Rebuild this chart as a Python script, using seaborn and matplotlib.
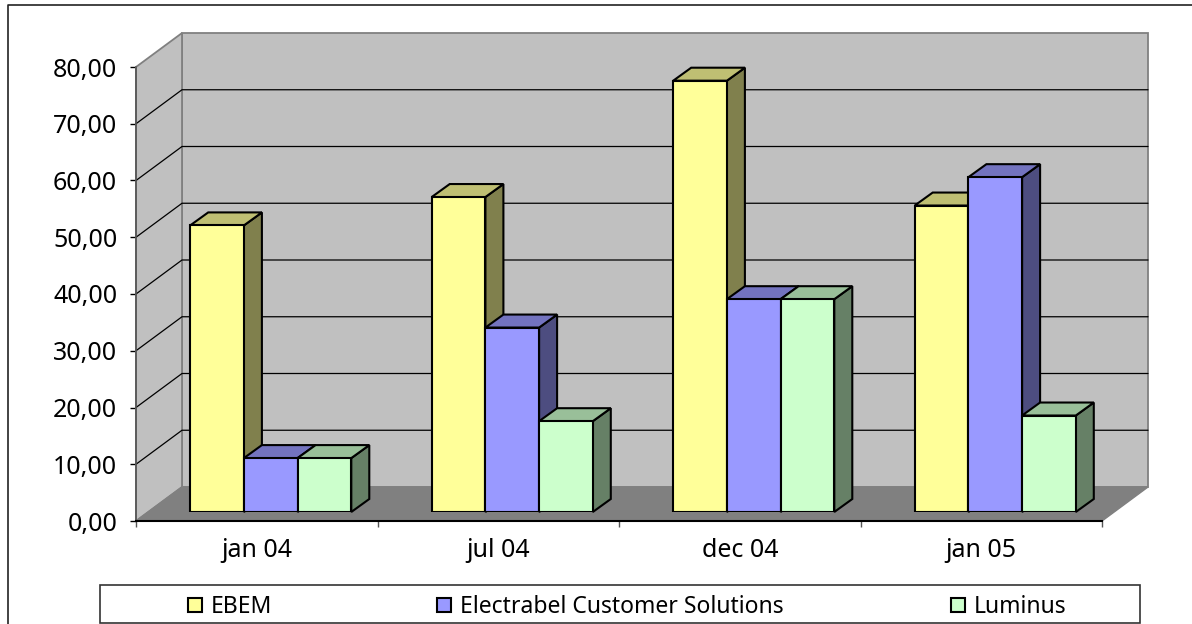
import pandas as pd
import matplotlib.pyplot as plt
import seaborn as sns
from matplotlib.patches import Patch, Polygon, Rectangle
from matplotlib.lines import Line2D
from matplotlib.transforms import IdentityTransform

# valeurs
dates = ["jan 04", "jul 04", "dec 04", "jan 05"]
ebem = [50.5, 55.5, 76.0, 54.0]
electrabel = [9.5, 32.5, 37.5, 59.0]
luminus = [9.5, 16.0, 37.5, 17.0]
y_ticks = [0, 10, 20, 30, 40, 50, 60, 70, 80]
series_names = ["EBEM", "Electrabel Customer Solutions", "Luminus"]
series_colors = ["#FFFF99", "#9999FF", "#CCFFCC"]
top_colors = ["#BFBF73", "#7373BF", "#99BF99"]
side_colors = ["#80804D", "#4D4D80", "#668066"]

W, H = 1192, 624
DEPTH_WALL = (46, 34)
DEPTH_BAR = (18, 13)
FONT = 18


def ax_rect(left, right, top, bottom):
    return [left / W, (H - bottom) / H, (right - left) / W, (bottom - top) / H]


def to_px(ax, x, y):
    return tuple(ax.transData.transform((x, y)))


def add_poly(ax, points, color, zorder, edge="black", lw=1.5):
    poly = Polygon(points, closed=True, facecolor=color, edgecolor=edge, linewidth=lw,
                   transform=IdentityTransform(), clip_on=False, zorder=zorder)
    ax.add_patch(poly)


def draw_walls(ax):
    dx, dy = DEPTH_WALL
    x0, x1 = ax.get_xlim()
    x_a, y_a = to_px(ax, x0, 0)
    x_b, y_b = to_px(ax, x1, 0)
    _, y_top = to_px(ax, x0, y_ticks[-1])

    # fond, mur de gauche, sol
    add_poly(ax, [(x_a + dx, y_a + dy), (x_b + dx, y_b + dy), (x_b + dx, y_top + dy), (x_a + dx, y_top + dy)],
             "#C0C0C0", 1, edge="#808080", lw=1.3)
    add_poly(ax, [(x_a, y_a), (x_a + dx, y_a + dy), (x_a + dx, y_top + dy), (x_a, y_top)],
             "#C0C0C0", 1, edge="#808080", lw=1.3)
    add_poly(ax, [(x_a, y_a), (x_b, y_b), (x_b + dx, y_b + dy), (x_a + dx, y_a + dy)],
             "#808080", 1, edge="#808080", lw=1)

    for tick in y_ticks[1:-1]:
        _, y = to_px(ax, x0, tick)
        ax.add_line(Line2D([x_a, x_a + dx, x_b + dx], [y, y + dy, y + dy], color="black", linewidth=0.9,
                           transform=IdentityTransform(), clip_on=False, zorder=2))


def matplotlib_hex(color):
    return "#%02X%02X%02X" % tuple(int(round(c * 255)) for c in color[:3])


def draw_bars_3d(ax):
    dx, dy = DEPTH_BAR
    bars = [p for p in ax.patches if p.get_height() > 0]
    bars = sorted(bars, key=lambda p: p.get_x())
    for i, bar in enumerate(bars):
        z = 3 + i * 0.1
        color_idx = series_colors.index(matplotlib_hex(bar.get_facecolor()))
        x_l, y_b = to_px(ax, bar.get_x(), 0)
        x_r, y_t = to_px(ax, bar.get_x() + bar.get_width(), bar.get_height())
        add_poly(ax, [(x_r, y_b), (x_r + dx, y_b + dy), (x_r + dx, y_t + dy), (x_r, y_t)], side_colors[color_idx], z)
        add_poly(ax, [(x_l, y_t), (x_r, y_t), (x_r + dx, y_t + dy), (x_l + dx, y_t + dy)], top_colors[color_idx], z)
        bar.set_zorder(z + 0.01)


def main():
    sns.set_theme(style="white")
    plt.rcParams["font.family"] = ["Noto Sans", "DejaVu Sans"]

    df = pd.DataFrame({
        "date": dates * 3,
        "fournisseur": [series_names[0]] * 4 + [series_names[1]] * 4 + [series_names[2]] * 4,
        "valeur": ebem + electrabel + luminus,
    })

    fig = plt.figure(figsize=(W / 100, H / 100), dpi=100, facecolor="white")

    # axes avant : graduations et parois
    ax = fig.add_axes(ax_rect(136, 1102, 67, 521))
    ax.patch.set_visible(False)
    ax.set_xlim(-0.5, 3.5)
    ax.set_ylim(0, 80)
    ax.set_yticks(y_ticks)
    ax.set_yticklabels([f"{t:.2f}".replace(".", ",") for t in y_ticks], fontsize=FONT, color="black")
    ax.tick_params(axis="y", left=True, length=4.5, width=1, color="black", pad=9)
    ax.set_xticks(range(len(dates)))
    ax.set_xticklabels(dates, fontsize=FONT, color="black")
    ax.set_xticks([-0.5, 0.5, 1.5, 2.5, 3.5], minor=True)
    ax.tick_params(axis="x", which="major", bottom=False, pad=6)
    ax.tick_params(axis="x", which="minor", bottom=True, length=4.5, width=1, color="#555555")
    for side in ["top", "right"]:
        ax.spines[side].set_visible(False)
    ax.spines["left"].set_color("#555555")
    ax.spines["left"].set_linewidth(1.2)
    ax.spines["bottom"].set_color("black")
    ax.spines["bottom"].set_linewidth(1.5)
    ax.spines["left"].set_zorder(6)
    ax.spines["bottom"].set_zorder(6)
    draw_walls(ax)

    # axes des barres, decale vers le fond
    ax_bars = fig.add_axes(ax_rect(136 + 14, 1102 + 14, 67 - 9, 521 - 9))
    sns.barplot(data=df, x="date", y="valeur", hue="fournisseur", order=dates, hue_order=series_names,
                palette=series_colors, width=0.667, gap=0, saturation=1, edgecolor="black", linewidth=1.5,
                legend=False, ax=ax_bars)
    ax_bars.set_xlim(-0.5, 3.5)
    ax_bars.set_ylim(0, 80)
    ax_bars.axis("off")
    draw_bars_3d(ax_bars)

    # cadre exterieur (gauche et haut seulement)
    fig.add_artist(Line2D([8 / W, 8 / W, 1], [0, (H - 5) / H, (H - 5) / H], color="#222222", linewidth=1.2))

    # legende
    fig.add_artist(Rectangle((100 / W, (H - 623) / H), 1040 / W, 38 / H, facecolor="white", edgecolor="#333333",
                             linewidth=1.2))
    legend_x = [188, 437, 951]
    for name, color, x in zip(series_names, series_colors, legend_x):
        handle = Patch(facecolor=color, edgecolor="black", linewidth=1.5)
        fig.legend(handles=[handle], labels=[name], loc="center left", bbox_to_anchor=(x / W, (H - 607) / H),
                   frameon=False, fontsize=FONT - 1.5, handlelength=0.62, handleheight=0.62, handletextpad=0.39,
                   borderpad=0, borderaxespad=0, labelcolor="black")

    fig.savefig("out.png", dpi=100)


if __name__ == "__main__":
    main()
